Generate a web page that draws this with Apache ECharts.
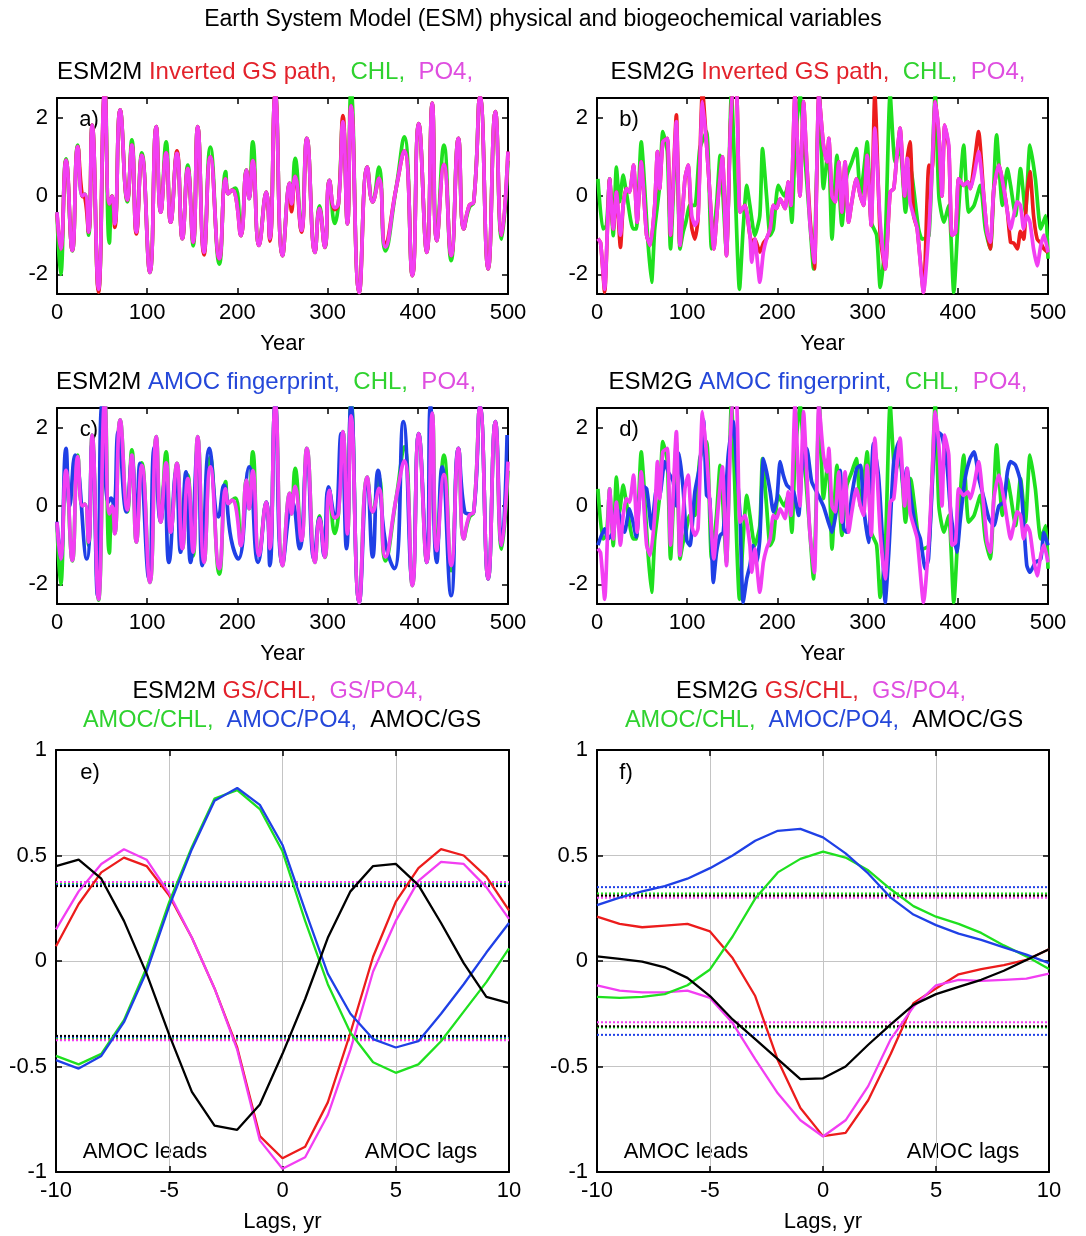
<!DOCTYPE html>
<html>
<head>
<meta charset="utf-8">
<script src="https://cdn.jsdelivr.net/npm/echarts@6/dist/echarts.min.js"></script>
<style>
  html, body { margin: 0; padding: 0; background: #fff; }
  #chart { width: 1086px; height: 1236px; }
</style>
</head>
<body>
<div id="chart"></div>
<script>
// ---- ESM2M time series (a, c) ----
const m2Years = [0,4,10,17,23,28,31,35,39,46,53,58,61,64,70,78,83,88,94,103,110,115,121,126,133,139,145,151,156,163,170,180,187,190,194,198,204,210,213,217,224,232,236,242,250,258,260,264,271,277,286,291,297,302,308,312,317,322,326,335,344,350,357,364,376,385,394,401,410,416,421,429,437,445,451,457,462,469,478,486,493,500];
const m2PO4 = [-0.41,-1.35,0.91,-1.39,1.26,0.0,0.05,-0.92,1.81,-2.38,2.7,-0.2,0.0,-0.71,2.2,-0.1,1.3,-0.92,1.04,-1.95,1.77,-0.41,1.1,-0.67,1.09,-1.09,0.7,-1.18,1.77,-1.44,1.0,-1.6,0.44,0.06,0.15,0.0,-1.01,0.66,-0.07,0.9,-1.26,0.1,-1.09,2.6,-1.52,0.32,-0.2,0.5,-0.88,1.47,-1.44,-0.32,-1.31,0.4,-0.3,-0.2,1.9,-0.71,2.3,-2.46,0.74,-0.15,0.45,-1.3,0.2,1.15,-2.03,1.85,-1.44,2.37,-1.14,0.8,-1.52,1.47,-0.84,-0.24,-0.15,2.55,-1.86,2.15,-1.0,1.13];
const m2GS = [-0.45,-1.35,0.91,-1.39,1.26,0.0,-0.05,-0.92,1.81,-2.45,2.7,-0.2,0.0,-0.8,2.2,-0.1,1.3,-0.97,1.04,-1.95,1.77,-0.41,1.1,-0.67,1.15,-1.09,0.7,-1.18,1.77,-1.5,1.0,-1.6,0.44,0.06,0.15,0.0,-1.01,0.66,-0.05,0.9,-1.26,0.1,-1.15,2.6,-1.52,0.32,-0.4,0.5,-0.92,1.47,-1.44,-0.32,-1.31,0.4,-0.35,-0.2,2.05,-0.71,2.3,-2.46,0.74,-0.15,0.45,-1.2,0.2,1.15,-2.03,1.85,-1.44,2.37,-1.14,0.8,-1.52,1.47,-0.84,-0.24,-0.15,2.55,-1.86,2.15,-1.0,1.13];
const m2CHL = [-0.41,-2.0,0.95,-1.4,1.3,0.0,0.05,-1.0,1.81,-2.4,2.7,-1.2,0.0,-0.7,2.2,-0.15,1.43,-0.92,1.1,-1.95,1.77,-0.41,1.38,-0.67,1.09,-1.09,0.79,-1.27,1.77,-1.44,1.25,-1.74,0.62,0.06,0.15,0.2,-1.01,0.66,-0.07,1.38,-1.26,0.1,-1.09,2.6,-1.52,0.32,-0.2,0.96,-0.88,1.47,-1.44,-0.25,-1.31,0.4,-0.7,-0.2,1.9,-0.71,2.7,-2.46,0.74,-0.15,0.74,-1.4,0.2,1.51,-2.03,1.85,-1.44,2.37,-1.14,1.3,-1.65,1.47,-0.84,-0.3,-0.15,2.55,-1.86,2.15,-1.1,0.9];
const m2AmocYears = [0,4,10,14,20,33,39,45,50,57,60,63,68,77,83,88,92,102,108,115,119,124,132,137,143,148,156,161,169,179,185,193,201,213,223,232,236,242,250,261,269,277,285,291,296,301,308,315,321,326,335,344,350,356,364,374,384,394,401,410,414,421,427,437,445,452,457,462,469,478,486,493,499];
const m2Amoc = [-0.4,-1.35,1.47,0.0,1.3,-1.35,1.6,-2.3,2.6,0.1,0.2,0.0,1.9,-0.15,1.2,-0.6,1.09,-1.86,1.5,-0.4,0.6,-1.44,0.87,-1.18,0.87,-1.44,1.5,-1.52,1.47,-0.28,0.53,-0.84,-1.35,1.0,-1.44,0.1,-1.52,2.6,-1.48,0.1,-1.09,1.2,-1.35,-0.3,-1.26,0.49,-0.3,1.85,-1.09,2.6,-2.46,0.66,-1.3,0.91,-0.92,-1.6,2.15,-1.95,1.85,-1.44,2.58,-1.44,1.0,-2.29,1.47,-0.15,-0.2,-0.15,2.55,-1.86,2.15,-1.0,1.81];

// ---- ESM2G time series (b, d) ----
const g2Years = [1,4,8.5,14,18,21.5,26,29,32.5,36,40.5,44.5,49,55,59,64,67,69.5,73,78,81.5,88,92,97.5,101,105,108.5,112,117,121.5,125,129.5,134.5,139,143.5,148,151,155,158.5,164,169.5,171.5,175,180.5,184.5,188,192,195.5,199,203,208.5,212,215,219.5,225,229,232.5,236,241,246,251,255,257,260.5,264,268,271.5,275,279,282.5,287.5,292,295.5,299.5,304,308,314,319.5,325,329,332.5,336,341,344,347,351,355,362,368,371.5,375,379,382.5,385.5,390,393.5,397.5,401,406.5,411,414,418,423,429,432.5,436,440,445.5,451,455,458.5,462,466,469.5,473,476.5,480,484,488,492,495.5,500];
const g2PO4 = [-1.09,-1.2,-2.38,0.44,-0.84,0.1,-1.0,-0.24,0.19,0.1,0.79,-0.67,0.87,-1.0,-1.26,-0.24,1.13,0.19,1.38,1.47,-1.0,1.9,-1.26,0.44,0.79,-0.49,-0.75,-0.58,2.41,1.3,0.1,-1.35,0.0,1.0,-1.52,1.8,2.8,2.6,-0.41,-0.24,-1.0,-1.69,-1.1,-2.2,-1.43,-1.09,-0.84,-0.24,-0.32,-0.07,-0.32,0.36,-0.24,2.58,0.0,2.41,0.87,-0.67,-1.7,2.6,1.3,0.87,1.47,0.0,-0.15,0.87,-0.41,0.87,-0.67,-0.15,0.44,0.0,-0.24,1.04,-0.75,1.73,-0.67,-1.86,0.1,0.19,1.04,1.73,0.0,0.96,-0.15,-0.5,-0.84,-2.46,-0.84,0.7,2.41,1.56,0.0,1.81,1.3,-1.0,-0.93,0.44,0.27,0.36,0.19,0.53,1.13,-0.07,-0.93,-1.18,0.19,0.79,0.19,-0.41,-0.84,-0.5,-0.15,-0.24,-0.84,-0.5,-0.67,-1.35,-1.78,-1.26,-1.0,-1.44];
const g2GS = [-1.09,-1.2,-2.45,0.44,-0.84,0.1,-1.31,-0.24,0.19,0.1,0.79,-0.67,0.87,-1.0,-1.26,-0.24,1.13,0.19,1.38,1.47,-1.0,2.07,-1.26,0.44,0.79,-0.8,-1.1,-0.58,2.7,1.3,0.1,-1.35,0.0,1.0,-1.52,1.8,2.8,2.6,-0.41,-0.24,-1.0,-1.18,-1.1,-1.43,-1.2,-1.09,-0.84,-0.24,-0.32,-0.07,-0.32,0.36,-0.24,2.58,0.0,2.41,0.87,-0.5,-1.86,2.6,1.3,0.87,1.47,0.0,-0.15,0.87,-0.41,0.87,-0.67,-0.15,0.44,0.0,-0.24,1.04,-0.75,2.6,-1.0,-1.86,0.1,0.19,1.04,1.73,0.0,0.96,1.38,-0.5,-0.84,-2.46,0.79,0.7,2.41,1.56,0.0,1.81,1.21,-1.0,-0.93,0.44,0.27,0.36,0.19,0.79,1.64,-0.07,-0.93,-1.35,0.19,0.79,0.19,-0.41,-1.18,-1.2,-1.35,-0.9,-1.1,0.0,0.62,-0.5,-1.1,-1.2,-1.35,-1.44];
const g2CHLYears = [1,6.5,10.5,14,18,21.5,25,29,32.5,40,43.5,49,56.5,60.5,64,69.5,73,78,81.5,88,92,95.5,98.5,103,108.5,114,121.5,127,132.5,136.5,143.5,149,158,162,166,169.5,175,180.5,183.5,188,192,195.5,201,207.5,212,216,219.5,225,229.5,236,240,246.5,251,256.5,260.5,266,271.5,277,282.5,287.5,292,295.5,299.5,304,310,314,319.5,325,330.5,336,342,347.5,356.5,360.5,368,375,379,384.5,390,395.5,401,406.5,412,418,425,430.5,436,443,449.5,455,458.5,464,469.5,475,480,486,492,497.5,500];
const g2CHL = [0.44,-0.84,-0.75,0.44,-1.01,0.74,-0.15,0.53,0.1,-0.84,-0.84,1.38,-1.18,-2.2,-0.84,0.27,1.64,1.13,-1.35,1.64,-1.35,-0.92,-0.67,-0.24,-0.24,1.21,1.64,-1.35,-0.24,1.04,-1.44,2.6,-2.38,-0.84,0.27,-0.24,-1.01,-0.5,1.21,0.0,-1.01,-0.84,0.27,0.0,0.27,-0.67,1.21,2.6,1.3,-0.67,-1.86,2.6,0.19,1.21,-1.1,1.04,-0.75,0.53,0.87,1.21,0.0,0.6,1.38,-0.67,-1.0,-2.33,-1.2,2.6,0.87,1.21,-0.41,0.7,-0.84,-1.1,-1.01,2.6,0.0,-0.67,-0.24,-2.46,-0.32,1.3,-0.41,-0.24,0.27,-0.84,-1.35,1.56,-0.24,0.7,0.27,-0.5,0.7,-0.41,1.3,0.44,-0.84,-0.5,-1.6];
const g2AmocYears = [1,8.5,12,18,21.5,25,30.5,36,40,43.5,49,55,60.5,66,69.5,75,79,84.5,88,91,95.5,99.5,103,108.5,114,118,121.5,125,129,132.5,136.5,140,145.5,151,155,158.5,162,166,169.5,173,177,180.5,184.5,188,192,195.5,199.5,203,206.5,210.5,218,223.5,227,232.5,238,243.5,251,256.5,260.5,266,269.5,273.5,277,282.5,288,292,295.5,301,306.5,312,316,319.5,323.5,329,334.5,340,343.5,347.5,353,358.5,364,367.5,373,376.5,382,388,391.5,395,399,402.5,408,413.5,418,423.5,429,434.5,440,445.5,451,455,458.5,464,469.5,473,476.5,480,486,492,495.5,500];
const g2Amoc = [-1.0,-0.58,-0.84,-0.67,0.0,-0.24,-0.67,-0.07,-0.41,-0.79,0.53,0.44,-0.58,0.44,0.27,1.13,0.87,0.62,0.0,1.34,0.44,-0.88,-1.01,0.36,1.04,2.2,0.27,0.19,-1.95,-1.18,-0.75,-0.67,1.3,2.15,0.96,-0.24,-2.46,-1.86,-1.52,-1.01,-1.44,-0.84,1.21,0.87,0.36,-0.15,0.19,1.13,0.79,0.53,0.36,-0.24,0.87,1.47,0.62,0.36,0.0,-0.41,-0.67,0.0,0.91,-0.58,-0.67,0.27,0.96,1.04,0.0,-0.93,1.6,0.79,-0.67,-2.46,-1.18,1.13,1.64,0.44,0.96,0.27,-0.5,-0.84,-1.6,-1.35,1.13,1.9,1.81,1.04,0.0,-0.67,-1.18,-0.41,0.7,1.21,1.38,0.7,0.19,-0.32,-0.5,0.0,0.1,0.87,1.13,1.04,0.62,-0.41,-1.52,-1.69,-1.44,-1.35,-0.67,-1.0];

// ---- lagged correlations (e, f) ----
const lags = [-10,-9,-8,-7,-6,-5,-4,-3,-2,-1,0,1,2,3,4,5,6,7,8,9,10];
const eGsChl   = [0.07,0.27,0.42,0.49,0.45,0.31,0.11,-0.13,-0.41,-0.83,-0.935,-0.88,-0.67,-0.34,0.02,0.28,0.44,0.53,0.50,0.40,0.24];
const eGsPo4   = [0.15,0.33,0.46,0.53,0.48,0.32,0.11,-0.13,-0.42,-0.85,-0.985,-0.93,-0.73,-0.42,-0.05,0.19,0.38,0.47,0.46,0.35,0.20];
const eAmocChl = [-0.45,-0.49,-0.44,-0.28,-0.03,0.28,0.54,0.77,0.81,0.72,0.52,0.19,-0.11,-0.34,-0.48,-0.53,-0.49,-0.38,-0.24,-0.10,0.06];
const eAmocPo4 = [-0.47,-0.51,-0.45,-0.29,-0.05,0.26,0.53,0.76,0.82,0.74,0.55,0.24,-0.06,-0.25,-0.37,-0.41,-0.38,-0.25,-0.11,0.04,0.18];
const eAmocGs  = [0.45,0.48,0.39,0.19,-0.06,-0.35,-0.62,-0.78,-0.80,-0.68,-0.44,-0.18,0.11,0.33,0.45,0.46,0.36,0.18,-0.01,-0.17,-0.20];
const fGsChl   = [0.21,0.176,0.16,0.168,0.176,0.14,0.014,-0.166,-0.47,-0.697,-0.83,-0.815,-0.66,-0.44,-0.20,-0.13,-0.063,-0.038,-0.02,0.005,0.056];
const fGsPo4   = [-0.115,-0.14,-0.149,-0.149,-0.14,-0.175,-0.294,-0.465,-0.627,-0.755,-0.832,-0.755,-0.593,-0.37,-0.217,-0.115,-0.089,-0.094,-0.089,-0.084,-0.06];
const fAmocChl = [-0.17,-0.175,-0.17,-0.157,-0.115,-0.04,0.116,0.296,0.42,0.484,0.518,0.49,0.43,0.34,0.26,0.21,0.176,0.133,0.074,0.022,-0.038];
const fAmocPo4 = [0.265,0.30,0.33,0.355,0.39,0.44,0.50,0.57,0.617,0.626,0.586,0.51,0.415,0.30,0.22,0.17,0.13,0.10,0.065,0.03,-0.01];
const fAmocGs  = [0.022,0.01,-0.003,-0.03,-0.08,-0.166,-0.277,-0.37,-0.465,-0.56,-0.556,-0.50,-0.397,-0.30,-0.208,-0.157,-0.123,-0.089,-0.046,0.005,0.056];
// significance levels, order: GS/CHL, GS/PO4, AMOC/CHL, AMOC/PO4, AMOC/GS
const eSigUpper = [0.37, 0.375, 0.365, 0.36, 0.355];
const eSigLower = [-0.37, -0.375, -0.365, -0.36, -0.355];
const fSigUpper = [0.31, 0.30, 0.32, 0.35, 0.31];
const fSigLower = [-0.31, -0.29, -0.315, -0.35, -0.31];

const tsXTicks = [0, 100, 200, 300, 400, 500];
const tsYTicks = [-2, 0, 2];
const lagXRange = [-10, 10];

const FONT = '"Liberation Sans", Arial, Helvetica, sans-serif';
const RED = '#ec1c1c', GREEN = '#1fe01f', MAG = '#f23ef2', BLUE = '#1f40e6', BLACK = '#000000';
const T_RED = '#e3222b', T_GREEN = '#2fd22f', T_MAG = '#df4ee0', T_BLUE = '#2447d9';

const zip = (xs, ys) => xs.map((x, i) => [x, ys[i]]);

const panels = [
  { kind: 'ts',  left: 57,  top: 98,  width: 451, height: 196 },
  { kind: 'ts',  left: 597, top: 98,  width: 451, height: 196 },
  { kind: 'ts',  left: 57,  top: 408, width: 451, height: 196 },
  { kind: 'ts',  left: 597, top: 408, width: 451, height: 196 },
  { kind: 'lag', left: 56,  top: 750, width: 453, height: 422 },
  { kind: 'lag', left: 597, top: 750, width: 452, height: 422 }
];

const grid = [], xAxis = [], yAxis = [];
const labelStyle = { fontFamily: FONT, fontSize: 22, color: '#000' };
panels.forEach((p, i) => {
  grid.push({ left: p.left, top: p.top, width: p.width, height: p.height, outerBoundsMode: 'none' });
  const ts = p.kind === 'ts';
  const xBase = {
    type: 'value', gridIndex: i,
    min: ts ? tsXTicks[0] : lagXRange[0],
    max: ts ? tsXTicks[tsXTicks.length - 1] : lagXRange[1],
    interval: ts ? 100 : 5,
    axisLine: { show: true, onZero: false, lineStyle: { color: '#000', width: 2 } },
    axisTick: { show: true, inside: true, length: 6, lineStyle: { color: '#000', width: 1.5 } }
  };
  xAxis.push(Object.assign({}, xBase, {
    position: 'bottom',
    axisLabel: Object.assign({ margin: 8 }, labelStyle),
    splitLine: { show: !ts, lineStyle: { color: '#c4c4c4', width: 1 } },
    name: ts ? 'Year' : 'Lags, yr', nameLocation: 'middle', nameGap: 39,
    nameTextStyle: labelStyle
  }));
  xAxis.push(Object.assign({}, xBase, {
    position: 'top', axisLabel: { show: false }, splitLine: { show: false }
  }));
  const yBase = {
    type: 'value', gridIndex: i,
    min: ts ? -2.5 : -1, max: ts ? 2.5 : 1,
    axisLine: { show: true, onZero: false, lineStyle: { color: '#000', width: 2 } }
  };
  if (ts) {
    yBase.axisTick = { show: true, inside: true, length: 6, customValues: tsYTicks, lineStyle: { color: '#000', width: 1.5 } };
  } else {
    yBase.interval = 0.5;
    yBase.axisTick = { show: true, inside: true, length: 6, lineStyle: { color: '#000', width: 1.5 } };
  }
  yAxis.push(Object.assign({}, yBase, {
    position: 'left',
    axisLabel: Object.assign({ margin: 9 }, labelStyle, ts ? { customValues: tsYTicks } : {}),
    splitLine: { show: !ts, lineStyle: { color: '#c4c4c4', width: 1 } }
  }));
  yAxis.push(Object.assign({}, yBase, {
    position: 'right', axisLabel: { show: false }, splitLine: { show: false }
  }));
});

const series = [];
function addLine(panel, data, color, width, smooth, dotted) {
  series.push({
    type: 'line', xAxisIndex: panel * 2, yAxisIndex: panel * 2,
    data: data, symbol: 'none', smooth: smooth, clip: true, silent: true,
    lineStyle: { color: color, width: width, type: dotted ? 'dotted' : 'solid' }
  });
}
const TSW = 3.7, LAGW = 2.3;
// a) ESM2M GS, CHL, PO4
addLine(0, zip(m2Years, m2CHL), GREEN, TSW, 0.5);
addLine(0, zip(m2Years, m2GS), RED, TSW, 0.5);
addLine(0, zip(m2Years, m2PO4), MAG, TSW, 0.5);
// b) ESM2G GS, CHL, PO4
addLine(1, zip(g2CHLYears, g2CHL), GREEN, TSW, 0.2);
addLine(1, zip(g2Years, g2GS), RED, TSW, 0.2);
addLine(1, zip(g2Years, g2PO4), MAG, TSW, 0.2);
// c) ESM2M AMOC, CHL, PO4
addLine(2, zip(m2Years, m2CHL), GREEN, TSW, 0.5);
addLine(2, zip(m2AmocYears, m2Amoc), BLUE, TSW, 0.5);
addLine(2, zip(m2Years, m2PO4), MAG, TSW, 0.5);
// d) ESM2G AMOC, CHL, PO4
addLine(3, zip(g2CHLYears, g2CHL), GREEN, TSW, 0.2);
addLine(3, zip(g2AmocYears, g2Amoc), BLUE, TSW, 0.2);
addLine(3, zip(g2Years, g2PO4), MAG, TSW, 0.2);
// e, f) lag correlations with significance levels
const lagColors = [RED, MAG, GREEN, BLUE, BLACK];
[[4, eSigUpper, eSigLower, [eGsChl, eGsPo4, eAmocChl, eAmocPo4, eAmocGs]],
 [5, fSigUpper, fSigLower, [fGsChl, fGsPo4, fAmocChl, fAmocPo4, fAmocGs]]].forEach(([pi, up, lo, curves]) => {
  lagColors.forEach((c, k) => {
    addLine(pi, lagXRange.map(x => [x, up[k]]), c, 2, false, true);
    addLine(pi, lagXRange.map(x => [x, lo[k]]), c, 2, false, true);
  });
  curves.forEach((vals, k) => addLine(pi, zip(lags, vals), lagColors[k], LAGW, false));
});

// texts
function rich(x, y, parts, size) {
  const r = {};
  const text = parts.map((p, i) => {
    r['c' + i] = { fill: p[1], fontSize: size, fontFamily: FONT };
    return '{c' + i + '|' + p[0] + '}';
  }).join('');
  return {
    type: 'text', x: x, y: y, silent: true,
    style: { text: text, rich: r, fontSize: size, fontFamily: FONT,
             align: 'center', verticalAlign: 'middle', textAlign: 'center', textVerticalAlign: 'middle' }
  };
}
const plain = (x, y, t, size) => rich(x, y, [[t, '#000']], size || 22);
const graphic = [
  plain(543, 20, 'Earth System Model (ESM) physical and biogeochemical variables', 23),
  rich(265, 72, [['ESM2M ', '#000'], ['Inverted GS path,  ', T_RED], ['CHL,  ', T_GREEN], ['PO4,', T_MAG]], 24),
  rich(818, 72, [['ESM2G ', '#000'], ['Inverted GS path,  ', T_RED], ['CHL,  ', T_GREEN], ['PO4,', T_MAG]], 24),
  rich(266, 382, [['ESM2M ', '#000'], ['AMOC fingerprint,  ', T_BLUE], ['CHL,  ', T_GREEN], ['PO4,', T_MAG]], 24),
  rich(818, 382, [['ESM2G ', '#000'], ['AMOC fingerprint,  ', T_BLUE], ['CHL,  ', T_GREEN], ['PO4,', T_MAG]], 24),
  rich(278, 692, [['ESM2M ', '#000'], ['GS/CHL,  ', T_RED], ['GS/PO4,', T_MAG]], 23.5),
  rich(282, 721, [['AMOC/CHL,  ', T_GREEN], ['AMOC/PO4,  ', T_BLUE], ['AMOC/GS', '#000']], 23.5),
  rich(821, 692, [['ESM2G ', '#000'], ['GS/CHL,  ', T_RED], ['GS/PO4,', T_MAG]], 23.5),
  rich(824, 721, [['AMOC/CHL,  ', T_GREEN], ['AMOC/PO4,  ', T_BLUE], ['AMOC/GS', '#000']], 23.5),
  plain(89, 120, 'a)'), plain(629, 120, 'b)'),
  plain(89, 430, 'c)'), plain(629, 430, 'd)'),
  plain(90, 773, 'e)'), plain(626, 773, 'f)'),
  plain(145, 1152, 'AMOC leads'), plain(421, 1152, 'AMOC lags'),
  plain(686, 1152, 'AMOC leads'), plain(963, 1152, 'AMOC lags')
];

const chart = echarts.init(document.getElementById('chart'), null, { renderer: 'canvas' });
chart.setOption({
  animation: false,
  backgroundColor: '#fff',
  grid: grid,
  xAxis: xAxis,
  yAxis: yAxis,
  series: series,
  graphic: graphic
});
</script>
</body>
</html>
